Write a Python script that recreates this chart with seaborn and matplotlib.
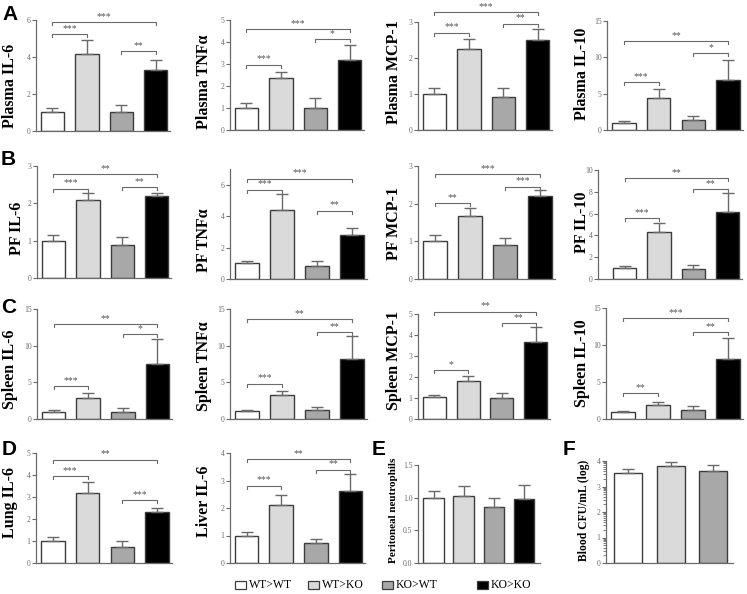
import matplotlib
matplotlib.use("Agg")

import numpy as np
import pandas as pd
import matplotlib.pyplot as plt
import matplotlib.patches as mpatches
import seaborn as sns

# --- data (fold change, mean and SEM) ---
GROUPS = ["WT>WT", "WT>KO", "KO>WT", "KO>KO"]

plasma_il6 = [1.03, 4.18, 1.03, 3.32]
plasma_il6_sem = [0.24, 0.72, 0.40, 0.50]
plasma_il6_sig = [(0, 1, 5.22, "***"), (2, 3, 4.32, "**"), (0, 3, 5.87, "***")]

plasma_tnf = [1.00, 2.35, 1.00, 3.17]
plasma_tnf_sem = [0.21, 0.30, 0.47, 0.69]
plasma_tnf_sig = [(0, 1, 2.97, "***"), (2, 3, 4.12, "*"), (0, 3, 4.58, "***")]

plasma_mcp1 = [1.00, 2.26, 0.93, 2.49]
plasma_mcp1_sem = [0.16, 0.28, 0.23, 0.32]
plasma_mcp1_sig = [(0, 1, 2.70, "***"), (2, 3, 2.95, "**"), (0, 3, 3.28, "***")]

plasma_il10 = [1.00, 4.43, 1.37, 6.86]
plasma_il10_sem = [0.28, 1.15, 0.60, 2.74]
plasma_il10_sig = [(0, 1, 6.58, "***"), (2, 3, 10.6, "*"), (0, 3, 12.2, "**")]

pf_il6 = [1.00, 2.08, 0.89, 2.20]
pf_il6_sem = [0.14, 0.21, 0.20, 0.07]
pf_il6_sig = [(0, 1, 2.39, "***"), (2, 3, 2.43, "**"), (0, 3, 2.78, "**")]

pf_tnf = [1.02, 4.41, 0.85, 2.78]
pf_tnf_sem = [0.15, 0.99, 0.27, 0.46]
pf_tnf_sig = [(0, 1, 5.68, "***"), (2, 3, 4.34, "**"), (0, 3, 6.38, "***")]

pf_mcp1 = [1.00, 1.68, 0.91, 2.21]
pf_mcp1_sem = [0.16, 0.20, 0.19, 0.14]
pf_mcp1_sig = [(0, 1, 2.01, "**"), (2, 3, 2.45, "***"), (0, 3, 2.78, "***")]

pf_il10 = [1.00, 4.27, 0.91, 6.19]
pf_il10_sem = [0.22, 0.85, 0.37, 1.74]
pf_il10_sig = [(0, 1, 5.58, "***"), (2, 3, 8.26, "**"), (0, 3, 9.24, "**")]

spleen_il6 = [1.00, 2.90, 1.00, 7.48]
spleen_il6_sem = [0.18, 0.59, 0.45, 3.39]
spleen_il6_sig = [(0, 1, 4.44, "***"), (2, 3, 11.6, "*"), (0, 3, 12.9, "**")]

spleen_tnf = [1.04, 3.31, 1.18, 8.20]
spleen_tnf_sem = [0.14, 0.54, 0.45, 3.08]
spleen_tnf_sig = [(0, 1, 4.80, "***"), (2, 3, 11.87, "**"), (0, 3, 13.64, "**")]

spleen_mcp1 = [1.04, 1.79, 1.00, 3.69]
spleen_mcp1_sem = [0.12, 0.28, 0.22, 0.68]
spleen_mcp1_sig = [(0, 1, 2.31, "*"), (2, 3, 4.56, "**"), (0, 3, 5.11, "**")]

spleen_il10 = [0.99, 1.88, 1.25, 8.15]
spleen_il10_sem = [0.13, 0.40, 0.45, 2.82]
spleen_il10_sig = [(0, 1, 3.45, "**"), (2, 3, 11.69, "**"), (0, 3, 13.66, "***")]

lung_il6 = [1.02, 3.19, 0.71, 2.33]
lung_il6_sem = [0.15, 0.51, 0.28, 0.15]
lung_il6_sig = [(0, 1, 3.96, "***"), (2, 3, 2.86, "***"), (0, 3, 4.70, "**")]

liver_il6 = [0.99, 2.12, 0.73, 2.63]
liver_il6_sem = [0.13, 0.34, 0.15, 0.61]
liver_il6_sig = [(0, 1, 2.81, "***"), (2, 3, 3.39, "**"), (0, 3, 3.78, "**")]

pn_neutro = [1.00, 1.02, 0.85, 0.98]
pn_neutro_sem = [0.10, 0.16, 0.14, 0.22]

blood_cfu = [3.51, 3.82, 3.62]
blood_cfu_sem = [0.18, 0.14, 0.22]

# --- styling ---
COLORS = ["#ffffff", "#dadada", "#a8a8a8", "#000000"]
EDGE = "#3c3c3c"
GREY = "#6a6a6a"
SERIF = ["Liberation Serif", "DejaVu Serif"]
W, H = 747, 594

# box = (left, top, right, bottom) in pixels, lab = (right edge, centre) of y label
PANELS = [
    dict(ylabel="Plasma IL-6", mean=plasma_il6, sem=plasma_il6_sem, sig=plasma_il6_sig,
         box=(36, 20, 170, 131), ylim=6, step=2, lab=(18, 86)),
    dict(ylabel="Plasma TNF\u03b1", mean=plasma_tnf, sem=plasma_tnf_sem, sig=plasma_tnf_sig,
         box=(230, 20, 364, 130), ylim=5, step=1, lab=(212, 82)),
    dict(ylabel="Plasma MCP-1", mean=plasma_mcp1, sem=plasma_mcp1_sem, sig=plasma_mcp1_sig,
         box=(418, 22, 552, 130), ylim=3, step=1, lab=(402, 72)),
    dict(ylabel="Plasma IL-10", mean=plasma_il10, sem=plasma_il10_sem, sig=plasma_il10_sig,
         box=(607, 21, 743, 130), ylim=15, step=5, lab=(590, 74)),
    dict(ylabel="PF IL-6", mean=pf_il6, sem=pf_il6_sem, sig=pf_il6_sig,
         box=(37, 166, 171, 278), ylim=3, step=1, lab=(25, 228)),
    dict(ylabel="PF TNF\u03b1", mean=pf_tnf, sem=pf_tnf_sem, sig=pf_tnf_sig,
         box=(230, 169, 367, 279), ylim=7, step=2, tmax=6, lab=(212, 240)),
    dict(ylabel="PF MCP-1", mean=pf_mcp1, sem=pf_mcp1_sem, sig=pf_mcp1_sig,
         box=(418, 166, 555, 279), ylim=3, step=1, lab=(402, 224)),
    dict(ylabel="PF IL-10", mean=pf_il10, sem=pf_il10_sem, sig=pf_il10_sig,
         box=(598, 170, 742, 279), ylim=10, step=2, lab=(590, 222), x0=-0.78),
    dict(ylabel="Spleen IL-6", mean=spleen_il6, sem=spleen_il6_sem, sig=spleen_il6_sig,
         box=(37, 309, 172, 419), ylim=15, step=5, lab=(18, 369)),
    dict(ylabel="Spleen TNF\u03b1", mean=spleen_tnf, sem=spleen_tnf_sem, sig=spleen_tnf_sig,
         box=(230, 309, 367, 419), ylim=15, step=5, lab=(212, 366)),
    dict(ylabel="Spleen MCP-1", mean=spleen_mcp1, sem=spleen_mcp1_sem, sig=spleen_mcp1_sig,
         box=(418, 314, 550, 419), ylim=5, step=1, lab=(402, 360)),
    dict(ylabel="Spleen IL-10", mean=spleen_il10, sem=spleen_il10_sem, sig=spleen_il10_sig,
         box=(606, 308, 743, 419), ylim=15, step=5, lab=(590, 363)),
    dict(ylabel="Lung IL-6", mean=lung_il6, sem=lung_il6_sem, sig=lung_il6_sig,
         box=(36, 453, 172, 563), ylim=5, step=1, lab=(18, 503)),
    dict(ylabel="Liver IL-6", mean=liver_il6, sem=liver_il6_sem, sig=liver_il6_sig,
         box=(230, 453, 365, 563), ylim=4, step=1, lab=(212, 501)),
    dict(ylabel="Peritoneal neutrophils", mean=pn_neutro, sem=pn_neutro_sem, sig=[],
         box=(418, 465, 540, 563), ylim=1.5, step=0.5, lab=(398, 510), fs=8.0,
         x0=-0.52, x1=3.53, width=0.69, fmt="{:.1f}"),
    dict(ylabel="Blood CFU/mL (log)", mean=blood_cfu, sem=blood_cfu_sem, sig=[],
         box=(606, 461, 733, 563), ylim=4, step=1, lab=(590, 510), fs=8.4,
         x0=-0.52, x1=2.47, width=0.66, logminor=True),
]

LETTERS = [("A", 2, 20), ("B", 1, 165), ("C", 1, 313), ("D", 2, 455), ("E", 372, 455), ("F", 563, 455)]


def draw_panel(fig, p):
    L, T, R, B = p["box"]
    ax = fig.add_axes([L / W, 1 - B / H, (R - L) / W, (B - T) / H])
    n = len(p["mean"])
    df = pd.DataFrame({"group": GROUPS[:n], "value": p["mean"]})
    sns.barplot(data=df, x="group", y="value", hue="group",
                palette=dict(zip(GROUPS, COLORS)), width=p.get("width", 0.68),
                edgecolor=EDGE, linewidth=1.0, errorbar=None, legend=False, ax=ax)
    ax.errorbar(np.arange(n), p["mean"], yerr=[np.zeros(n), p["sem"]], fmt="none",
                ecolor=GREY, elinewidth=1.0, capsize=4.5, capthick=1.0, zorder=3)

    x0, x1 = p.get("x0", -0.48), p.get("x1", 3.42)
    ax.set_xlim(x0, x1)
    ax.set_ylim(0, p["ylim"])
    ticks = np.arange(0, p.get("tmax", p["ylim"]) + 1e-9, p["step"])
    ax.set_yticks(ticks)
    fmt = p.get("fmt", "{:g}")
    ax.set_yticklabels([fmt.format(t) for t in ticks], family=SERIF)
    if p.get("logminor"):
        minor = [k + np.log10(m) for k in range(4) for m in range(2, 10)]
        ax.set_yticks(minor, minor=True)
        ax.tick_params(axis="y", which="minor", length=2, width=0.6, color=GREY)

    ax.tick_params(axis="x", bottom=False, labelbottom=False)
    ax.tick_params(axis="y", which="major", length=3, width=0.8, color=GREY,
                   labelsize=5.5, labelcolor=GREY, pad=1)
    ax.set_xlabel("")
    sns.despine(ax=ax)
    for side in ("left", "bottom"):
        ax.spines[side].set_color(GREY)
        ax.spines[side].set_linewidth(0.9)

    ax.set_ylabel(p["ylabel"], fontsize=p.get("fs", 11.5), fontweight="bold",
                  family=SERIF, color="black")
    lx, ly = p["lab"]
    ax.yaxis.set_label_coords((lx - L) / (R - L), (B - ly) / (B - T))

    # significance brackets
    dy = 3.0 * p["ylim"] / (B - T)
    for i, j, y, stars in p["sig"]:
        ax.plot([i, i, j, j], [y - dy, y, y, y - dy], color=GREY, lw=0.8,
                clip_on=False, zorder=4)
        ax.text((i + j) / 2, y + 0.4 * dy, stars, ha="center", va="bottom",
                fontsize=7, color="#555555", family=SERIF, clip_on=False)
    return ax


fig = plt.figure(figsize=(W / 100, H / 100), dpi=100)
for p in PANELS:
    draw_panel(fig, p)

for letter, x, y in LETTERS:
    fig.text(x / W, 1 - y / H, letter, fontsize=15, fontweight="bold",
             family=["Liberation Sans", "DejaVu Sans"], ha="left", va="baseline")

# legend, drawn by hand to keep the uneven spacing of the original
LEG_X = [235, 308, 382, 477]
LEG_Y = 585
for x, g, c in zip(LEG_X, GROUPS, COLORS):
    fig.add_artist(mpatches.Rectangle((x / W, 1 - (LEG_Y + 4) / H), 11 / W, 8 / H,
                                      transform=fig.transFigure, facecolor=c,
                                      edgecolor=EDGE, linewidth=0.9))
    fig.text((x + 14) / W, 1 - LEG_Y / H, g, fontsize=8.5, family=SERIF,
             ha="left", va="center")

fig.savefig("out.png", dpi=100)
